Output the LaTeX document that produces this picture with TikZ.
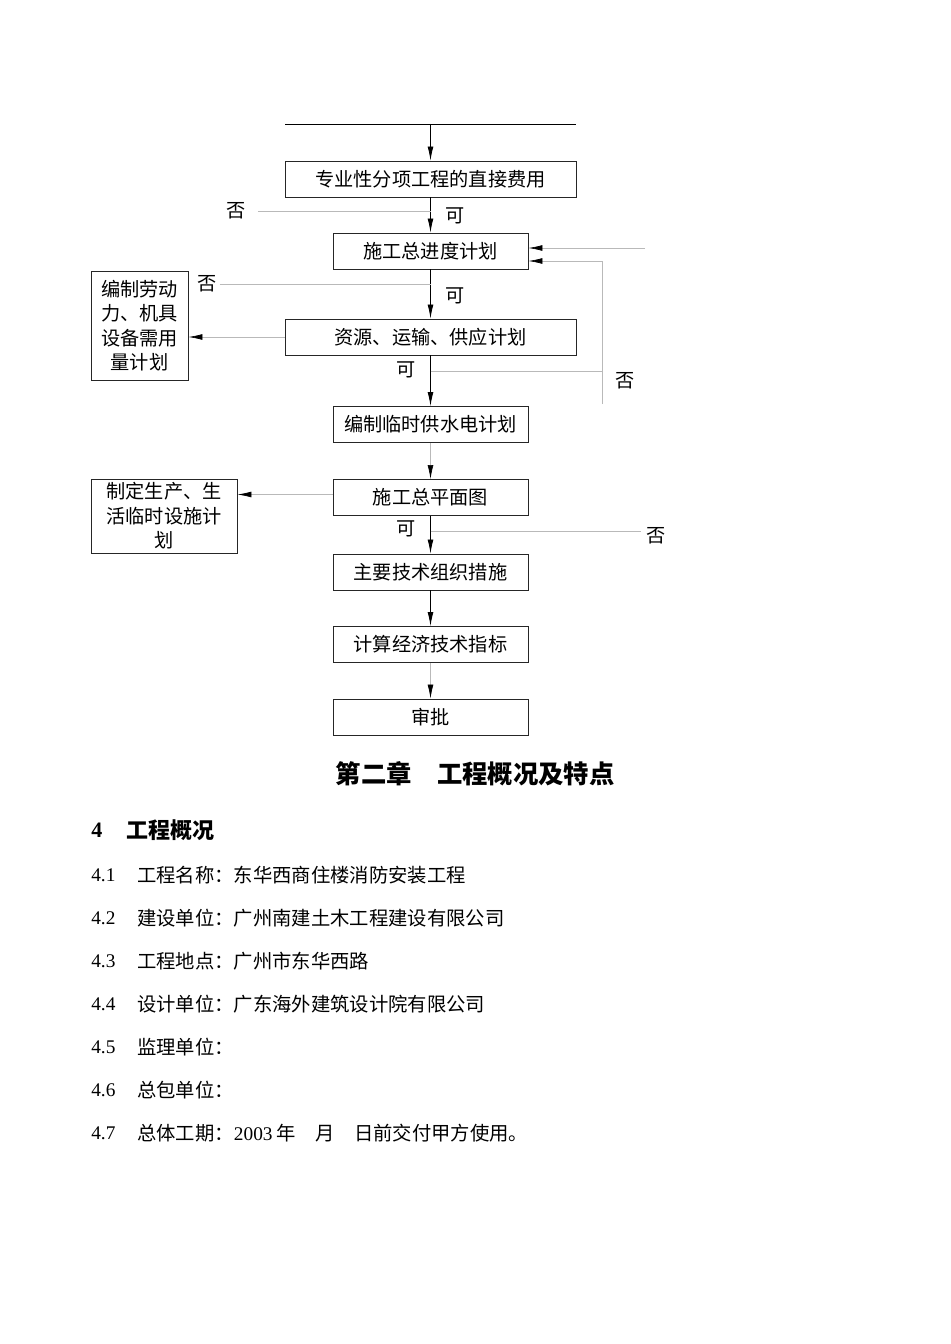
\documentclass[tikz,border=0pt]{standalone}
\usepackage{fontspec}
\setmainfont{Liberation Serif}
\newfontfamily\cjk{Noto Sans CJK SC}
\usetikzlibrary{positioning, arrows.meta, calc}

\begin{document}
\begin{tikzpicture}[
    x=0.75pt, y=-0.75pt,
    font=\cjk\fontsize{14.4}{18.4}\selectfont,
    box/.style={rectangle, draw=black!85, line width=0.7pt, inner sep=0pt,
                minimum height=27pt, align=center},
    wide/.style={minimum width=218.25pt},
    narrow/.style={minimum width=146.25pt},
    side/.style={rectangle, draw=black!85, line width=0.7pt, inner sep=0pt, align=center},
    arrow/.style={-{Latex[length=10.5pt, width=4.4pt]}, line width=0.6pt},
    garrow/.style={-{Latex[length=10.5pt, width=4.4pt, color=black]}, gray!55, line width=0.5pt},
    gline/.style={gray!55, line width=0.5pt},
    lbl/.style={inner sep=0pt},
    item/.style={anchor=west, inner sep=0pt, font=\cjk\fontsize{14.5}{17}\selectfont}
]
\useasboundingbox (0,0) rectangle (950,1344);

% Top bar
\coordinate (topL) at (285,124);
\coordinate (topR) at (576,124);
\coordinate (topM) at ($(topL)!0.5!(topR)$);
\draw[line width=0.6pt] (topL) -- (topR);

% Main column
\node[box, wide] (direct) at (430.5,179) {专业性分项工程的直接费用};
\node[box, narrow] (progress) at (430.5,251) {施工总进度计划};
\node[box, wide] (supply) at (430.5,337) {资源、运输、供应计划};
\node[box, narrow] (utility) at (430.5,424.5) {编制临时供水电计划};
\node[box, narrow] (layout) at (430.5,497.5) {施工总平面图};
\node[box, narrow] (measure) at (430.5,572) {主要技术组织措施};
\node[box, narrow] (index) at (430.5,644.5) {计算经济技术指标};
\node[box, narrow] (approve) at (430.5,717) {审批};

% Side boxes
\node[side, minimum width=72.75pt, minimum height=81.75pt] (labour) at (139.5,325.5)
     {编制劳动\\力、机具\\设备需用\\量计划};
\node[side, minimum width=109.5pt, minimum height=55.5pt] (temp) at (164,516)
     {制定生产、生\\活临时设施计\\划};

% Main flow
\draw[arrow] (topM) -- (direct.north);
\draw[arrow] (direct.south) -- (progress.north);
\draw[arrow] (progress.south) -- (supply.north);
\draw[arrow] (supply.south) -- (utility.north);
\draw[garrow] (utility.south) -- (layout.north);
\draw[arrow] (layout.south) -- (measure.north);
\draw[arrow] (measure.south) -- (index.north);
\draw[garrow] (index.south) -- (approve.north);

% Yes / no labels
\node[lbl] (no1) at (236,211) {否};
\node[lbl] (yes1) at (455,216) {可};
\node[lbl] (no2) at (207,284) {否};
\node[lbl] (yes2) at (455,296) {可};
\node[lbl] (yes3) at (406,370) {可};
\node[lbl] (no3) at (625,381) {否};
\node[lbl] (yes4) at (406,529) {可};
\node[lbl] (no4) at (656,536) {否};

\draw[gline] ([xshift=9pt]no1.east) -- (no1 -| direct.south);
\draw[gline] ([xshift=2pt]no2.east) -- (no2 -| progress.south);

% Side branches
\draw[garrow] (supply.west) -- (supply.west -| labour.east);
\draw[garrow] ($(layout.west)+(0,-3)$) -- ($(layout.west -| temp.east)+(0,-3)$);

% Return loops
\coordinate (loopA) at (430.5,371);
\coordinate (loopR) at (602,404);
\coordinate (loopT) at (645,248);
\coordinate (branch4) at (430.5,531);
\draw[gline] (loopA) -- (loopA -| loopR);
\draw[garrow] (loopR) |- ($(progress.east)+(0,10)$);
\draw[garrow] (loopT) -- (loopT -| progress.east);
\draw[gline] (branch4) -- ($(branch4 -| no4.west)+(-5,0)$);

% Text below
\node[font=\cjk\bfseries\fontsize{19}{22}\selectfont] (chapter) at (475,774)
     {第二章　工程概况及特点};
\node[item, font=\rmfamily\bfseries\fontsize{16.5}{20}\selectfont] (secnum) at (91,830) {4};
\node[item, font=\cjk\bfseries\fontsize{16.5}{20}\selectfont] (sectitle) at (126,830) {工程概况};

\foreach \n/\t [count=\i from 0] in {
    4.1/工程名称：东华西商住楼消防安装工程,
    4.2/建设单位：广州南建土木工程建设有限公司,
    4.3/工程地点：广州市东华西路,
    4.4/设计单位：广东海外建筑设计院有限公司,
    4.5/监理单位：,
    4.6/总包单位：,
    4.7/{总体工期：{\rmfamily 2003} 年　月　日前交付甲方使用。}} {
  \node[item] (num\i) at (91,{875+43*\i}) {\rmfamily\n};
  \node[item] (txt\i) at (137,{875+43*\i}) {\t};
}

\end{tikzpicture}
\end{document}
